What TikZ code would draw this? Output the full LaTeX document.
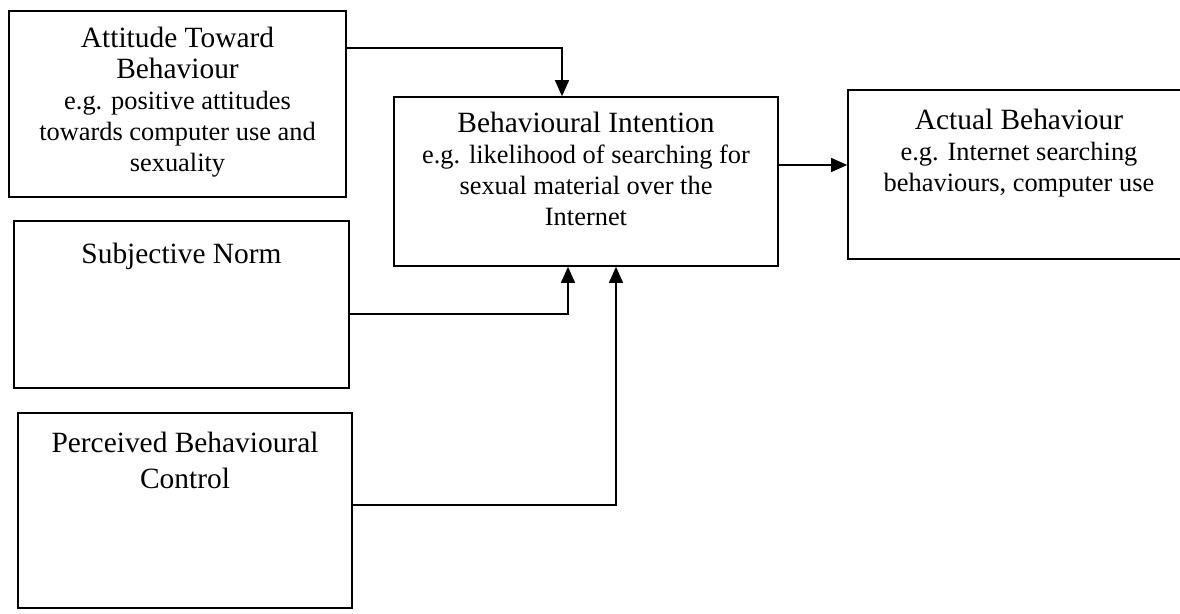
\documentclass[tikz,border=0pt]{standalone}
\usepackage{fontspec}
\setmainfont{Liberation Serif}
\usetikzlibrary{arrows.meta}
\newcommand\egsize{\fontsize{13.2}{15.5}\selectfont}

\begin{document}
\begin{tikzpicture}[x=0.5pt, y=-0.5pt,
                    box/.style={draw, line width=0.8pt, inner sep=0pt},
                    head/.style={anchor=north, align=center, inner sep=0pt,
                                 font=\fontsize{14.7}{15.5}\selectfont},
                    link/.style={->, line width=0.65pt},
                    >={Triangle[length=8pt,width=7pt]}]
  \useasboundingbox (0,0) rectangle (1180,614);
  \clip (0,0) rectangle (1180,614);

  % the three predictors on the left
  \node[box, minimum width=168.5pt, minimum height=93pt]   (att)  at (177.5,104)   {};
  \node[box, minimum width=167.5pt, minimum height=83.5pt] (norm) at (181.5,304.5) {};
  \node[box, minimum width=167pt,   minimum height=97.5pt] (pbc)  at (185,510.5)   {};
  % intention, then behaviour (its right side runs off the page)
  \node[box, minimum width=192pt, minimum height=84.5pt] (intent) at (586,181.5)  {};
  \node[box, minimum width=171pt, minimum height=84.5pt] (act)    at (1019,174.5) {};

  \node[head] (att-txt) at ([yshift=-8.5pt]att.north)
    {Attitude Toward\\Behaviour\\\egsize e.g. positive attitudes\\\egsize towards computer use and\\\egsize sexuality};
  \node[head] (norm-txt) at ([yshift=-11.5pt]norm.north) {Subjective Norm};
  \node[head, font=\fontsize{14.7}{18}\selectfont] (pbc-txt) at ([yshift=-10pt]pbc.north)
    {Perceived Behavioural\\Control};
  \node[head] (intent-txt) at ([yshift=-8pt]intent.north)
    {Behavioural Intention\\\egsize e.g. likelihood of searching for\\\egsize sexual material over the\\\egsize Internet};
  \node[head] (act-txt) at ([yshift=-10pt]act.north)
    {Actual Behaviour\\\egsize e.g. Internet searching\\\egsize behaviours, computer use};

  % elbow arrows into the intention box
  \draw[link] ([yshift=28pt]att.east) -| ([xshift=-12pt]intent.north);
  \draw[link] ([yshift=-4.75pt]norm.east) -| ([xshift=-9pt]intent.south);
  \draw[link] ([yshift=2.75pt]pbc.east) -| ([xshift=15pt]intent.south);
  \coordinate (mid) at ([yshift=8.25pt]intent.east);
  \draw[link] (mid) -- (mid -| act.west);
\end{tikzpicture}
\end{document}
